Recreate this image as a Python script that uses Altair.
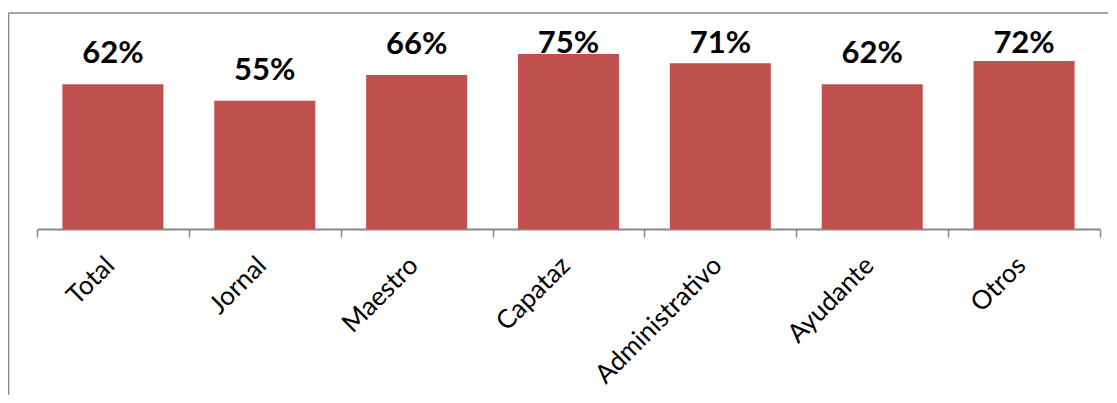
import altair as alt
import pandas as pd

categories = ["Total", "Jornal", "Maestro", "Capataz", "Administrativo", "Ayudante", "Otros"]
values = [0.62, 0.55, 0.66, 0.75, 0.71, 0.62, 0.72]

df = pd.DataFrame({"cat": categories, "val": values})

W, H = 1063, 200
BAR = "#C0504D"
GRAY = "#878787"

x_enc = alt.X(
    "cat:N",
    sort=categories,
    scale=alt.Scale(paddingInner=0, paddingOuter=0),
    axis=alt.Axis(
        title=None,
        labelAngle=-45,
        labelAlign="right",
        labelBaseline="middle",
        labelFont="Lato",
        labelFontSize=26,
        labelColor="#000000",
        labelPadding=24,
        labelOffset=-3,
        tickBand="extent",
        tickSize=8,
        tickColor=GRAY,
        tickWidth=1.5,
        domainColor=GRAY,
        domainWidth=2,
        grid=False,
    ),
)
y_scale = alt.Scale(domain=[0, 0.857], nice=False)
y_enc = alt.Y("val:Q", scale=y_scale, axis=None)

base = alt.Chart(df)
bars = base.mark_bar(color=BAR, width=alt.RelativeBandSize(0.665)).encode(x=x_enc, y=y_enc)
labels = base.transform_calculate(
    ly="min(datum.val + 0.09, 0.754)"
).mark_text(
    font="Lato", fontSize=31, fontWeight="bold", color="#000000",
    baseline="alphabetic"
).encode(
    x=x_enc,
    y=alt.Y("ly:Q", scale=y_scale, axis=None),
    text=alt.Text("val:Q", format=".0%"),
)

frame_df = pd.DataFrame({"a": [0]})
top_line = alt.Chart(frame_df).mark_rule(color=GRAY, strokeWidth=1.5).encode(
    x=alt.value(-28.5), x2=alt.value(1200), y=alt.value(-16)
)
left_line = alt.Chart(frame_df).mark_rule(color=GRAY, strokeWidth=1.5).encode(
    x=alt.value(-28.5), y=alt.value(-16), y2=alt.value(500)
)

chart = alt.layer(top_line, left_line, bars, labels).properties(
    width=W, height=H,
    autosize=alt.AutoSizeParams(type="none"),
    padding={"left": 29, "top": 21, "right": 8, "bottom": 166},
).configure(background="white").configure_view(stroke=None)

chart.save("out.html", embed_options={"renderer": "svg", "actions": False})
